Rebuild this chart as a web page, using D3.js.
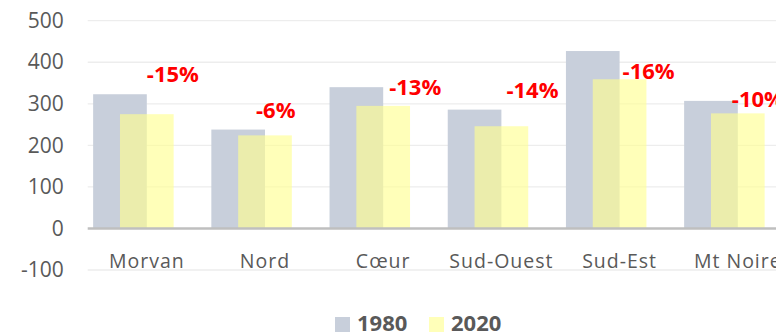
<!DOCTYPE html>
<html>
<head>
<meta charset="utf-8">
<script src="https://cdn.jsdelivr.net/npm/d3@7"></script>
<style>
  html, body { margin: 0; padding: 0; background: #fff; }
  svg { display: block; }
</style>
</head>
<body>
<svg id="chart" width="776" height="332"></svg>
<script>
// Massifs and their values in 1980 and 2020
const categories = ["Morvan", "Nord", "Cœur", "Sud-Ouest", "Sud-Est", "Mt Noire"];
const values1980 = [323, 238, 340, 286, 427, 307];
const values2020 = [275, 224, 295, 246, 359, 277];
const seriesNames = ["1980", "2020"];
const yTicks = [-100, 0, 100, 200, 300, 400, 500];

// Hand-placed offsets of the change labels (dx from band centre, dy from 2020 bar top)
const labelNudge = [[0, -32.5], [-9, -17.7], [6, -11], [5, -28], [3, 0], [-6, -6.6]];

const W = 776, H = 332;
const plotLeft = 87.7, step = 118.2;
const svg = d3.select("#chart");

const x = d3.scaleBand()
  .domain(categories)
  .range([plotLeft, plotLeft + step * categories.length])
  .padding(0);

const y = d3.scaleLinear().domain([-100, 500]).range([270, 20.7]);

const barW = step * 0.454;
const colGray = "#c8cfdb";
const colYellow = "rgba(255,255,144,0.63)";
const textGray = "#595959";
const font = "'Open Sans', sans-serif";

// Gridlines
svg.append("g").selectAll("line")
  .data(yTicks.filter(t => t !== 0))
  .join("line")
  .attr("x1", plotLeft).attr("x2", W)
  .attr("y1", d => y(d)).attr("y2", d => y(d))
  .attr("stroke", "#ededed").attr("stroke-width", 1.3);

// Y axis labels
const yAxis = d3.axisLeft(y).tickValues(yTicks).tickSize(0).tickPadding(24)
  .tickFormat(d => String(d));
const gy = svg.append("g").attr("transform", `translate(${plotLeft},0)`).call(yAxis);
gy.select(".domain").remove();
gy.selectAll("text")
  .attr("fill", textGray)
  .style("font-family", font)
  .style("font-size", "21px");

// 1980 bars (left half of the band)
svg.append("g").selectAll("rect")
  .data(categories)
  .join("rect")
  .attr("x", d => x(d) + x.bandwidth() / 2 - barW)
  .attr("width", barW)
  .attr("y", (d, i) => y(values1980[i]))
  .attr("height", (d, i) => y(0) - y(values1980[i]))
  .attr("fill", colGray);

// 2020 bars (centred, translucent over 1980)
svg.append("g").selectAll("rect")
  .data(categories)
  .join("rect")
  .attr("x", d => x(d) + x.bandwidth() / 2 - barW / 2)
  .attr("width", barW)
  .attr("y", (d, i) => y(values2020[i]))
  .attr("height", (d, i) => y(0) - y(values2020[i]))
  .attr("fill", colYellow);

// Zero line
svg.append("line")
  .attr("x1", plotLeft).attr("x2", W)
  .attr("y1", y(0)).attr("y2", y(0))
  .attr("stroke", "#bfbfbf").attr("stroke-width", 2.5);

// Category labels
svg.append("g").selectAll("text")
  .data(categories)
  .join("text")
  .attr("x", d => x(d) + x.bandwidth() / 2)
  .attr("y", 267.5)
  .attr("text-anchor", "middle")
  .attr("fill", textGray)
  .style("font-family", font)
  .style("font-size", "19.5px")
  .style("letter-spacing", "1px")
  .text(d => d);

// Change labels 1980 -> 2020
svg.append("g").selectAll("text")
  .data(categories)
  .join("text")
  .attr("x", (d, i) => x(d) + x.bandwidth() / 2 + labelNudge[i][0])
  .attr("y", (d, i) => y(values2020[i]) + labelNudge[i][1])
  .attr("fill", "#ff0000")
  .style("font-family", font)
  .style("font-weight", "bold")
  .style("font-size", "22px")
  .text((d, i) => Math.round((values2020[i] / values1980[i] - 1) * 100) + "%");

// Legend
const legend = svg.append("g");
const legendX = [335, 429];
[colGray, "#ffffb9"].forEach((c, i) => {
  legend.append("rect")
    .attr("x", legendX[i]).attr("y", 317)
    .attr("width", 15).attr("height", 15)
    .attr("fill", c);
  legend.append("text")
    .attr("x", legendX[i] + 22).attr("y", 331)
    .attr("fill", textGray)
    .style("font-family", font)
    .style("font-weight", "bold")
    .style("font-size", "22px")
    .text(seriesNames[i]);
});
</script>
</body>
</html>
